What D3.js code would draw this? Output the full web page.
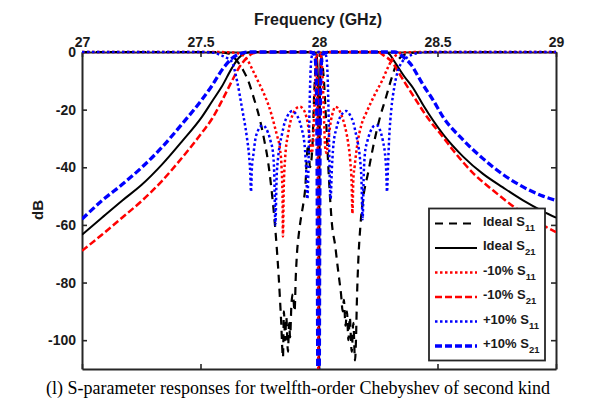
<!DOCTYPE html>
<html>
<head>
<meta charset="utf-8">
<script src="https://cdn.jsdelivr.net/npm/d3@7"></script>
<style>
  html, body { margin: 0; padding: 0; background: #fff; }
  svg { display: block; }
</style>
</head>
<body>
<svg id="chart" width="606" height="406"></svg>
<script>
// Axis ticks
const xTicks = [27, 27.5, 28, 28.5, 29];
const xTickLabels = ["27", "27.5", "28", "28.5", "29"];
const yTicks = [0, -20, -40, -60, -80, -100];
const yTickLabels = ["0", "-20", "-40", "-60", "-80", "-100"];

// Series: [frequency (GHz), magnitude (dB)]
const idealS11 = [
  [27.00, 0], [27.50, 0], [27.58, -0.1], [27.62, -0.6], [27.64, -1.8], [27.658, -3.5], [27.68, -6.3],
  [27.70, -9.7], [27.725, -16], [27.751, -23.6], [27.77, -31], [27.785, -38], [27.80, -48], [27.812, -58],
  [27.82, -66], [27.83, -78], [27.84, -93], [27.848, -106], [27.852, -90], [27.857, -100], [27.862, -92],
  [27.869, -104], [27.874, -94], [27.878, -99], [27.884, -87], [27.89, -84], [27.897, -90], [27.902, -78],
  [27.907, -70], [27.915, -63], [27.925, -57], [27.935, -52], [27.943, -46], [27.949, -36], [27.955, -32],
  [27.962, -40], [27.972, -33], [27.98, -14], [27.987, -4], [27.993, -0.8], [28.0, 0],
  [28.007, -0.8], [28.013, -3], [28.02, -9], [28.03, -24], [28.042, -44], [28.055, -60], [28.068, -67],
  [28.078, -74], [28.084, -78], [28.093, -84], [28.10, -90], [28.105, -86], [28.112, -95], [28.118, -90],
  [28.124, -100], [28.13, -92], [28.138, -104], [28.145, -94], [28.152, -107], [28.156, -100], [28.160, -86],
  [28.165, -74], [28.175, -60], [28.186, -51], [28.207, -42], [28.232, -31.5], [28.253, -24], [28.283, -15.6],
  [28.304, -9.7], [28.333, -3], [28.36, -1], [28.40, -0.2], [28.50, 0], [29.00, 0]
];

const idealS21 = [
  [27.0, -63.4], [27.084, -57.5], [27.169, -51.6], [27.253, -46], [27.338, -39], [27.422, -31],
  [27.506, -22.5], [27.55, -17], [27.59, -12], [27.633, -5.5], [27.662, -2], [27.69, -0.4], [27.72, 0],
  [27.97, 0], [27.99, -1], [27.995, -8], [27.998, -40], [28.0, -130], [28.002, -40], [28.005, -8],
  [28.01, -1], [28.03, 0], [28.28, 0], [28.30, -1], [28.312, -2.5], [28.33, -4.8], [28.36, -8.5],
  [28.397, -12.5], [28.44, -18.5], [28.523, -28.5], [28.608, -36.3], [28.692, -42.3], [28.776, -47],
  [28.861, -51.5], [28.945, -55.3], [29.0, -57.5]
];

const minus10S11 = [
  [27.00, 0], [27.55, 0], [27.64, -0.2], [27.67, -0.8], [27.696, -2.5], [27.722, -6.6], [27.745, -10.5],
  [27.764, -13.8], [27.785, -18], [27.80, -21.8], [27.812, -25.5], [27.823, -29], [27.835, -33.5],
  [27.842, -40], [27.846, -50], [27.848, -64], [27.851, -48], [27.857, -37], [27.869, -28.7], [27.88, -24],
  [27.89, -21.5], [27.905, -19.5], [27.92, -19], [27.932, -19.7], [27.941, -21], [27.954, -25.5],
  [27.962, -31], [27.968, -35], [27.974, -33], [27.98, -20], [27.985, -8], [27.99, -2.5], [27.995, -0.5],
  [28.0, 0], [28.005, -0.5], [28.01, -2.5], [28.015, -8], [28.02, -20], [28.026, -33], [28.032, -35],
  [28.04, -30], [28.05, -24], [28.06, -20.5], [28.068, -19], [28.08, -19.5], [28.095, -22], [28.11, -26],
  [28.122, -31], [28.132, -38], [28.138, -46], [28.141, -56], [28.145, -44], [28.15, -40], [28.16, -33],
  [28.18, -25], [28.20, -21], [28.24, -14], [28.266, -10], [28.29, -5.5], [28.31, -2.5], [28.33, -0.8],
  [28.36, -0.1], [28.45, 0], [29.00, 0]
];

const minus10S21 = [
  [27.0, -69], [27.084, -63.4], [27.169, -57.5], [27.253, -51.6], [27.338, -44.7], [27.422, -36.7],
  [27.506, -28], [27.55, -23], [27.59, -17], [27.633, -10], [27.662, -5.5], [27.696, -2], [27.72, -0.5],
  [27.75, 0], [27.97, 0], [27.985, -1], [27.991, -8], [27.995, -40], [27.998, -130], [28.001, -40],
  [28.005, -8], [28.01, -1], [28.03, 0], [28.25, 0], [28.27, -1], [28.308, -3.5], [28.35, -9],
  [28.40, -15.5], [28.46, -23], [28.523, -29.5], [28.565, -34], [28.65, -42], [28.734, -48],
  [28.819, -53.5], [28.90, -58], [29.0, -62.5]
];

const plus10S11 = [
  [27.00, 0], [27.50, 0], [27.56, -0.3], [27.582, -1], [27.61, -2], [27.633, -3.5], [27.654, -10],
  [27.675, -19.4], [27.696, -29.8], [27.705, -36], [27.71, -42], [27.713, -48.5], [27.717, -40],
  [27.724, -35], [27.73, -31], [27.743, -27.2], [27.754, -25.8], [27.764, -25.5], [27.775, -26.3],
  [27.785, -28], [27.796, -31], [27.806, -35], [27.811, -42], [27.816, -60], [27.821, -44], [27.827, -37],
  [27.835, -32], [27.844, -28.5], [27.855, -24.5], [27.865, -22.5], [27.876, -21], [27.886, -20.5],
  [27.897, -21], [27.907, -22], [27.918, -24], [27.928, -27], [27.936, -30], [27.941, -34], [27.946, -41],
  [27.951, -51], [27.955, -42], [27.959, -24], [27.963, -10], [27.967, -3], [27.972, -0.8], [27.98, 0],
  [28.02, 0], [28.028, -0.8], [28.033, -3], [28.037, -10], [28.041, -24], [28.045, -42], [28.049, -51],
  [28.054, -41], [28.059, -34], [28.064, -30], [28.072, -27], [28.082, -24], [28.093, -22], [28.103, -21],
  [28.114, -20.5], [28.124, -21], [28.135, -22.5], [28.145, -24.5], [28.156, -28.5], [28.165, -32],
  [28.173, -37], [28.179, -44], [28.184, -58], [28.189, -42], [28.194, -35], [28.204, -31], [28.215, -28],
  [28.225, -26.3], [28.236, -25.5], [28.246, -25.5], [28.257, -27], [28.27, -31], [28.278, -35],
  [28.283, -40], [28.287, -48.5], [28.291, -40], [28.296, -30], [28.305, -20], [28.318, -12],
  [28.333, -6.5], [28.35, -3.5], [28.37, -2], [28.39, -1], [28.42, -0.3], [28.46, 0], [29.00, 0]
];

const plus10S21 = [
  [27.0, -58], [27.084, -51.6], [27.169, -46], [27.253, -40], [27.338, -33], [27.422, -25],
  [27.506, -16.5], [27.55, -11.5], [27.59, -6.3], [27.633, -2.2], [27.67, -0.5], [27.70, 0],
  [27.96, 0], [27.982, -1], [27.988, -8], [27.992, -40], [27.996, -130], [28.0, -130], [28.004, -40],
  [28.008, -8], [28.014, -1], [28.04, 0], [28.32, 0], [28.345, -1], [28.363, -2.2], [28.39, -4.5],
  [28.415, -8], [28.44, -11.5], [28.48, -16.5], [28.523, -22.5], [28.608, -30.5], [28.692, -37],
  [28.776, -42.5], [28.861, -46.8], [28.945, -50], [29.0, -51.5]
];

const seriesNames = ["Ideal S", "Ideal S", "-10% S", "-10% S", "+10% S", "+10% S"];
const seriesSubs = ["11", "21", "11", "21", "11", "21"];
const seriesData = [idealS11, idealS21, minus10S11, minus10S21, plus10S11, plus10S21];
const seriesStyle = [
  { color: "#000000", width: 2.2, dash: "8,6" },
  { color: "#000000", width: 2.0, dash: null },
  { color: "#ff0000", width: 2.5, dash: "2.5,2.5" },
  { color: "#ff0000", width: 2.5, dash: "7,3" },
  { color: "#0000ff", width: 2.5, dash: "2.5,2.5" },
  { color: "#0000ff", width: 3.3, dash: "7,3" }
];

const svg = d3.select("#chart");
const plotL = 82, plotR = 556, plotT = 52, plotB = 369;
const x = d3.scaleLinear().domain([27, 29]).range([plotL, plotR]);
const y = d3.scaleLinear().domain([-110, 0]).range([plotB, plotT]);

const axisColor = "#262626";
const font = "'Liberation Sans', Arial, sans-serif";

svg.append("rect").attr("x", 0).attr("y", 0).attr("width", 606).attr("height", 406).attr("fill", "#fff");

svg.append("defs").append("clipPath").attr("id", "plotClip")
  .append("rect").attr("x", plotL).attr("y", plotT - 3).attr("width", plotR - plotL).attr("height", plotB - plotT + 3);

// Axes (ticks point inward)
function styleAxis(g) {
  g.selectAll("path.domain").attr("stroke", axisColor).attr("stroke-width", 2);
  g.selectAll(".tick line").attr("stroke", axisColor).attr("stroke-width", 1.6);
  g.selectAll("text").attr("fill", "#1a1a1a").attr("font-family", font)
    .attr("font-weight", "bold").attr("font-size", "14px");
}

svg.append("g").attr("transform", `translate(0,${plotT})`)
  .call(d3.axisTop(x).tickValues(xTicks).tickFormat((d, i) => xTickLabels[i])
    .tickSizeInner(-5).tickSizeOuter(0).tickPadding(5))
  .call(styleAxis);

svg.append("g").attr("transform", `translate(0,${plotB})`)
  .call(d3.axisBottom(x).tickValues(xTicks).tickFormat("")
    .tickSizeInner(-5).tickSizeOuter(0))
  .call(styleAxis);

svg.append("g").attr("transform", `translate(${plotL},0)`)
  .call(d3.axisLeft(y).tickValues(yTicks).tickFormat((d, i) => yTickLabels[i])
    .tickSizeInner(-5).tickSizeOuter(0).tickPadding(6))
  .call(styleAxis);

svg.append("g").attr("transform", `translate(${plotR},0)`)
  .call(d3.axisRight(y).tickValues(yTicks).tickFormat("")
    .tickSizeInner(-5).tickSizeOuter(0))
  .call(styleAxis);

// Data lines
const line = d3.line().x(d => x(d[0])).y(d => y(d[1])).curve(d3.curveMonotoneX);
const plot = svg.append("g").attr("clip-path", "url(#plotClip)");
seriesData.forEach((data, i) => {
  const s = seriesStyle[i];
  plot.append("path")
    .datum(data)
    .attr("d", line)
    .attr("fill", "none")
    .attr("stroke", s.color)
    .attr("stroke-width", s.width)
    .attr("stroke-dasharray", s.dash)
    .attr("stroke-linejoin", "round");
});

// Axis titles
svg.append("text").attr("x", 318).attr("y", 25).attr("text-anchor", "middle")
  .attr("font-family", font).attr("font-weight", "bold").attr("font-size", "16px")
  .attr("fill", "#1a1a1a").text("Frequency (GHz)");

svg.append("text").attr("transform", "translate(43,210) rotate(-90)").attr("text-anchor", "middle")
  .attr("font-family", font).attr("font-weight", "bold").attr("font-size", "15px")
  .attr("fill", "#1a1a1a").text("dB");

// Legend
const lg = svg.append("g");
lg.append("rect").attr("x", 429).attr("y", 208.5).attr("width", 116).attr("height", 152)
  .attr("fill", "#fff").attr("stroke", "#262626").attr("stroke-width", 1.8);
const legendY = d3.scalePoint().domain(d3.range(6)).range([223.5, 346]);
seriesNames.forEach((name, i) => {
  const s = seriesStyle[i];
  const yy = legendY(i);
  lg.append("line").attr("x1", 435).attr("x2", 477).attr("y1", yy).attr("y2", yy)
    .attr("stroke", s.color).attr("stroke-width", s.width).attr("stroke-dasharray", s.dash);
  const t = lg.append("text").attr("x", 483).attr("y", yy + 2)
    .attr("font-family", font).attr("font-weight", "bold").attr("font-size", "13px").attr("fill", "#1a1a1a");
  t.append("tspan").text(name);
  t.append("tspan").attr("font-size", "9.5px").attr("dy", 5).text(seriesSubs[i]);
});

// Caption
svg.append("text").attr("x", 298).attr("y", 394).attr("text-anchor", "middle")
  .attr("font-family", "'Liberation Serif', 'Times New Roman', serif").attr("font-size", "18px")
  .attr("fill", "#000").text("(l) S-parameter responses for twelfth-order Chebyshev of second kind");
</script>
</body>
</html>
